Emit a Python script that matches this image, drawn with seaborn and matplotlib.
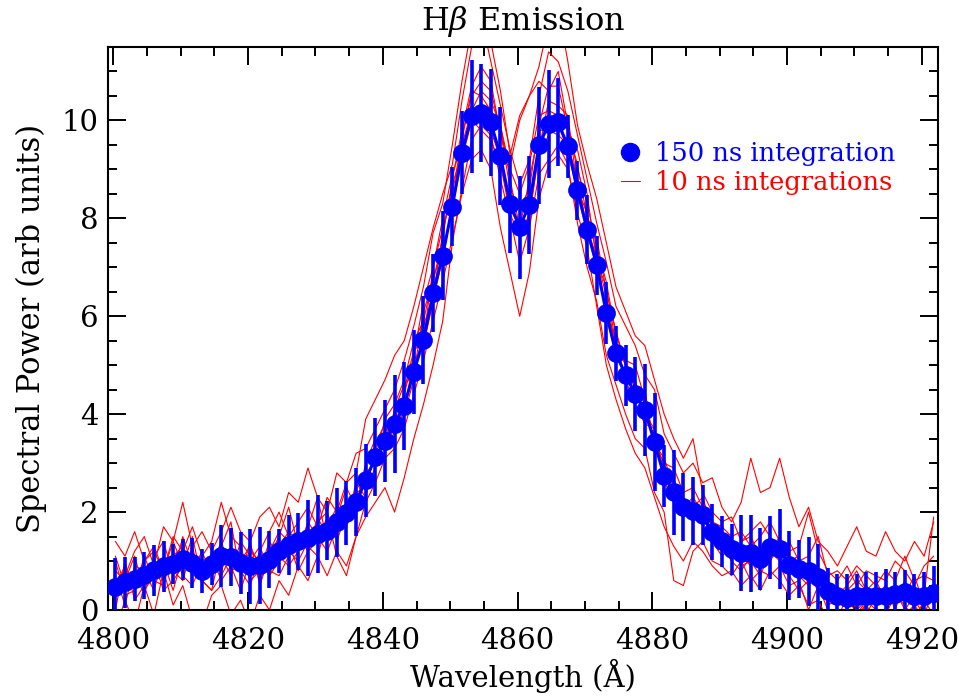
import numpy as np
import pandas as pd
import matplotlib
matplotlib.use("Agg")
import matplotlib.pyplot as plt
from matplotlib.lines import Line2D
import seaborn as sns

# ---------------- data ----------------
wl_start = 4800.3
wl_step = 1.429
n_pts = 86
wavelength = wl_start + wl_step * np.arange(n_pts)

blue_150ns = [
    0.47, 0.57, 0.64, 0.71, 0.81, 0.89, 0.94, 1.04, 0.96, 0.79,
    0.94, 1.10, 1.08, 0.96, 0.89, 0.91, 1.03, 1.20, 1.33, 1.40,
    1.47, 1.55, 1.62, 1.79, 1.98, 2.21, 2.65, 3.12, 3.45, 3.79,
    4.17, 4.86, 5.51, 6.47, 7.24, 8.24, 9.34, 10.08, 10.16, 9.96,
    9.27, 8.30, 7.82, 8.28, 9.49, 9.92, 9.96, 9.47, 8.57, 7.77,
    7.04, 6.06, 5.24, 4.79, 4.41, 4.08, 3.43, 2.73, 2.40, 2.10,
    2.02, 1.94, 1.59, 1.40, 1.24, 1.16, 1.16, 1.04, 1.28, 1.24,
    0.91, 0.83, 0.79, 0.67, 0.38, 0.28, 0.24, 0.28, 0.28, 0.28,
    0.28, 0.32, 0.36, 0.28, 0.28, 0.35,
]

blue_err = [
    0.60, 0.52, 0.45, 0.48, 0.52, 0.52, 0.40, 0.42, 0.51, 0.45,
    0.43, 0.63, 0.59, 0.63, 0.77, 0.78, 0.59, 0.45, 0.61, 0.59,
    0.78, 0.80, 0.60, 0.70, 0.65, 0.70, 0.75, 0.80, 0.83, 1.00,
    0.90, 0.85, 0.90, 0.80, 0.90, 0.80, 0.85, 1.15, 1.00, 1.10,
    1.00, 1.00, 1.05, 1.00, 1.20, 1.10, 0.90, 0.65, 0.60, 0.70,
    0.60, 0.63, 0.57, 0.63, 0.75, 0.94, 1.00, 0.63, 0.87, 0.70,
    0.70, 0.61, 0.57, 0.52, 0.52, 0.77, 0.79, 0.63, 0.64, 0.82,
    0.71, 0.59, 0.71, 0.67, 0.47, 0.45, 0.50, 0.45, 0.50, 0.50,
    0.55, 0.45, 0.45, 0.45, 0.50, 0.55,
]

red_run1 = [
    1.4, 1.1, 1.6, 1.0, 1.3, 0.8, 1.5, 1.2, 1.7, 1.1,
    1.4, 2.2, 1.5, 1.3, 0.7, 1.2, 1.6, 2.0, 1.5, 1.8,
    2.1, 1.7, 2.3, 2.0, 2.6, 2.8, 3.9, 4.3, 4.7, 5.2,
    5.5, 6.2, 7.0, 7.8, 8.5, 9.1, 10.4, 11.5, 12.1, 11.2,
    10.3, 9.4, 8.7, 9.2, 10.5, 11.4, 11.2, 10.6, 9.7, 8.8,
    7.9, 7.1, 6.2, 5.8, 5.4, 4.8, 4.5, 3.6, 3.2, 2.8,
    3.0, 2.6, 2.7, 2.1, 1.8, 2.2, 3.1, 2.4, 2.5, 3.1,
    2.3, 1.7, 2.1, 1.4, 1.2, 0.9, 1.3, 1.7, 1.2, 1.1,
    1.6, 1.2, 1.0, 1.4, 1.1, 1.8,
]
red_run2 = [
    -0.4, 0.2, -0.3, 0.5, -0.1, 0.8, 0.1, 0.5, -0.2, -0.3,
    0.3, 0.5, -0.1, 0.2, -0.3, 0.3, 0.0, 0.6, 0.3, 0.9,
    0.6, 1.1, 0.7, 1.2, 0.9, 1.5, 2.2, 2.6, 3.1, 3.3,
    3.7, 4.4, 5.1, 5.9, 6.7, 7.6, 8.5, 9.2, 9.4, 9.0,
    7.8, 6.9, 6.0, 6.9, 8.4, 9.1, 9.3, 9.0, 8.1, 7.4,
    6.2, 5.0, 4.3, 3.7, 3.2, 2.9, 2.3, 1.7, 1.3, 1.0,
    1.4, 1.2, 0.9, 0.7, 0.8, 0.5, 0.7, 0.4, 0.8, 0.6,
    0.3, 0.5, 0.1, 0.2, -0.2, 0.0, -0.3, -0.1, 0.1, -0.2,
    0.0, -0.3, -0.1, 0.1, -0.2, 0.0,
]
red_run3 = [
    1.1, 0.5, 0.8, 0.3, 1.1, 1.4, 0.7, 1.5, 0.9, 0.6,
    0.4, 1.3, 1.8, 0.7, 1.4, 0.5, 1.1, 1.5, 2.1, 1.3,
    1.7, 2.3, 1.4, 1.9, 2.5, 2.1, 3.0, 3.5, 3.3, 4.1,
    4.6, 4.8, 6.1, 6.7, 7.6, 8.8, 9.8, 10.7, 11.1, 10.8,
    9.7, 9.1, 10.0, 10.5, 10.8, 10.6, 11.0, 9.9, 9.0, 8.3,
    7.4, 6.7, 5.6, 5.1, 5.0, 4.3, 3.4, 3.0, 2.9, 2.4,
    2.5, 2.1, 1.8, 1.7, 1.5, 1.6, 1.3, 1.5, 1.8, 1.4,
    1.2, 1.3, 2.0, 1.2, 0.8, 0.6, 0.9, 0.5, 0.8, 0.7,
    0.6, 1.0, 0.8, 0.5, 0.9, 1.1,
]
red_run4 = [
    0.3, 0.8, 0.4, 1.1, 0.6, 0.5, 1.2, 0.7, 0.5, 1.0,
    1.1, 0.6, 0.9, 0.4, 1.0, 1.3, 0.8, 0.7, 1.1, 1.6,
    1.3, 1.1, 1.8, 1.6, 2.1, 2.4, 2.5, 2.9, 3.7, 3.6,
    4.1, 5.1, 5.4, 6.3, 7.2, 8.2, 9.2, 10.0, 9.8, 9.6,
    9.1, 8.1, 7.6, 8.1, 9.3, 9.7, 9.9, 9.4, 8.5, 7.7,
    7.0, 6.1, 5.5, 4.7, 4.2, 3.8, 3.7, 2.6, 2.3, 2.0,
    1.8, 2.1, 1.4, 1.1, 1.3, 0.9, 1.0, 0.7, 1.2, 1.0,
    0.7, 0.4, 0.6, 0.8, 0.2, 0.5, 0.0, 0.3, 0.5, 0.1,
    0.4, 0.2, 0.6, 0.0, 0.5, 0.3,
]
red_run5 = [
    0.0, 1.0, 0.2, 0.5, 0.9, 0.6, 1.1, 1.3, 0.8, 1.2,
    0.7, 0.9, 1.2, 1.1, 0.6, 0.8, 1.4, 1.1, 0.9, 1.2,
    1.8, 1.5, 1.2, 1.7, 1.8, 2.6, 2.3, 3.4, 3.8, 3.5,
    4.5, 5.3, 5.5, 7.0, 7.8, 8.5, 9.6, 10.6, 10.5, 10.2,
    9.9, 8.8, 7.8, 8.0, 9.4, 10.4, 10.3, 10.1, 8.6, 8.1,
    7.3, 6.0, 5.2, 5.1, 4.3, 4.5, 3.3, 2.9, 2.7, 1.9,
    2.2, 1.8, 1.7, 1.4, 1.0, 1.4, 1.5, 1.1, 1.2, 1.5,
    1.0, 1.1, 0.5, 0.7, 0.6, 0.3, 0.5, 0.8, 0.4, 0.6,
    0.2, 0.5, 0.3, 0.7, 0.1, 0.5,
]
red_run6 = [
    0.7, 0.1, 0.9, 0.8, 0.4, 1.1, 0.8, 0.6, 1.3, 0.5,
    1.2, 1.1, 0.7, 1.4, 1.1, 0.6, 1.0, 1.4, 1.2, 1.0,
    1.4, 1.8, 2.0, 1.4, 2.0, 1.9, 2.8, 3.0, 3.4, 4.0,
    4.0, 4.7, 5.8, 6.4, 7.7, 8.7, 9.3, 10.1, 10.1, 9.8,
    9.2, 8.2, 7.8, 8.8, 9.8, 9.8, 9.7, 9.5, 8.8, 7.8,
    7.2, 6.4, 5.3, 4.8, 4.7, 3.9, 3.6, 2.7, 2.4, 2.3,
    2.0, 1.9, 1.5, 1.6, 1.2, 1.1, 0.9, 1.2, 1.4, 1.1,
    0.8, 0.9, 0.7, 0.4, 0.5, 0.1, 0.4, 0.0, 0.2, 0.4,
    0.1, 0.4, 0.0, 0.3, 0.4, 0.1,
]
red_run7 = [
    0.8, 0.6, 1.1, 0.4, 0.7, 1.0, 0.4, 1.1, 0.7, 0.8,
    0.9, 1.4, 0.8, 0.9, 1.2, 1.0, 0.7, 1.3, 1.6, 1.4,
    1.5, 1.6, 1.7, 2.1, 1.7, 2.2, 2.6, 3.1, 3.9, 4.2,
    4.7, 5.5, 5.9, 6.8, 7.3, 8.2, 9.7, 10.5, 10.8, 10.6,
    9.8, 8.6, 8.2, 8.6, 9.9, 10.7, 10.7, 9.8, 9.1, 8.0,
    7.6, 6.5, 5.7, 5.0, 4.6, 4.2, 3.4, 3.1, 2.5, 2.2,
    2.1, 2.3, 1.7, 1.3, 1.4, 1.3, 1.1, 0.9, 1.0, 1.3,
    1.1, 0.8, 0.8, 0.6, 0.3, 0.4, 0.2, 0.4, -0.1, 0.3,
    0.5, 0.0, 0.6, 0.2, -0.1, 0.4,
]
red_run8 = [
    0.5, 0.9, 0.5, 1.0, 1.2, 0.8, 1.4, 0.9, 1.2, 0.7,
    1.0, 0.8, 1.3, 0.8, 0.5, 1.1, 0.7, 1.0, 1.2, 1.5,
    1.2, 1.4, 1.9, 1.1, 0.7, 1.5, 1.9, 2.2, 2.5, 2.0,
    2.7, 3.5, 4.2, 5.0, 5.9, 7.5, 8.6, 9.6, 9.9, 9.7,
    8.8, 8.0, 7.1, 7.8, 8.9, 9.2, 9.5, 9.1, 7.9, 7.0,
    6.3, 5.2, 4.6, 4.0, 3.5, 3.3, 2.4, 2.0, 0.6, 0.5,
    1.2, 1.4, 1.0, 0.9, 0.7, 1.0, 0.6, 0.8, 0.7, 0.9,
    0.5, 0.6, 0.0, 0.5, 0.0, -0.2, 0.3, -0.1, 0.2, 0.0,
    -0.1, 0.3, 0.1, -0.2, 0.2, -0.1,
]
red_run9 = [
    0.4, 0.7, 1.2, 1.5, 0.9, 1.7, 1.4, 2.2, 1.3, 1.6,
    1.2, 1.6, 2.1, 1.6, 1.4, 1.9, 2.1, 1.7, 2.4, 2.2,
    2.9, 2.3, 2.0, 2.8, 2.6, 3.2, 3.3, 3.7, 4.1, 4.5,
    5.1, 5.8, 6.6, 7.7, 8.3, 9.5, 10.8, 11.9, 12.2, 11.6,
    10.6, 9.3, 10.1, 10.5, 11.1, 12.0, 12.3, 11.2, 9.9, 9.1,
    8.4, 7.5, 6.6, 6.1, 5.6, 5.4, 4.7, 4.0, 3.5, 3.1,
    3.5, 2.4, 2.0, 1.8, 1.9, 1.4, 1.6, 1.8, 1.5, 1.2,
    1.4, 1.0, 1.1, 1.5, 0.7, 0.8, 0.6, 0.9, 0.7, 0.5,
    0.8, 0.6, 1.1, 0.6, 0.7, 0.6,
]
red_run10 = [
    1.0, 0.3, 0.4, 0.8, 1.0, 0.4, 0.6, 0.9, 1.5, 0.6,
    0.4, 0.7, 1.1, 1.0, 1.3, 0.9, 1.2, 1.6, 1.4, 0.8,
    1.2, 1.9, 1.5, 1.8, 2.2, 2.3, 2.3, 3.4, 3.5, 4.0,
    4.4, 5.2, 6.3, 7.0, 8.0, 8.9, 9.5, 10.2, 10.6, 10.4,
    9.9, 9.0, 8.5, 9.1, 10.1, 10.2, 10.1, 9.8, 9.4, 8.5,
    7.1, 6.6, 5.4, 5.0, 4.5, 4.0, 3.7, 2.8, 2.5, 2.1,
    2.3, 2.0, 1.4, 1.3, 1.0, 0.8, 1.1, 0.9, 1.2, 1.3,
    0.9, 0.7, 0.5, 0.8, 0.1, 0.2, 0.4, 0.6, 0.4, 0.3,
    0.3, 0.1, 0.5, 0.4, 0.3, 1.9,
]
red_runs = [red_run1, red_run2, red_run3, red_run4, red_run5,
            red_run6, red_run7, red_run8, red_run9, red_run10]

title_text = "H$\\beta$ Emission"
xlabel_text = "Wavelength (Å)"
ylabel_text = "Spectral Power (arb units)"
legend_labels = ["150 ns integration", "10 ns integrations"]
x_ticks = [4800, 4820, 4840, 4860, 4880, 4900, 4920]
y_ticks = [0, 2, 4, 6, 8, 10]

# ---------------- frames ----------------
red_df = pd.concat(
    [pd.DataFrame({"wavelength": wavelength, "power": run, "run": i})
     for i, run in enumerate(red_runs)],
    ignore_index=True,
)
blue_df = pd.DataFrame({"wavelength": wavelength, "power": blue_150ns, "err": blue_err})

# ---------------- style ----------------
sns.set_style("ticks")
plt.rcParams["font.family"] = ["DejaVu Serif"]
plt.rcParams["mathtext.fontset"] = "dejavuserif"
for key in ["text.color", "axes.labelcolor", "xtick.color", "ytick.color",
            "xtick.labelcolor", "ytick.labelcolor", "axes.edgecolor"]:
    plt.rcParams[key] = "black"

fig = plt.figure(figsize=(9.58, 6.98), dpi=100)
ax = fig.add_axes([0.1127, 0.1261, 0.8664, 0.8066])

sns.lineplot(data=red_df, x="wavelength", y="power", units="run", estimator=None,
             color="#ff0000", linewidth=0.8, ax=ax, legend=False, zorder=2)

ax.errorbar(blue_df["wavelength"], blue_df["power"], yerr=blue_df["err"], fmt="none",
            ecolor="#0000ff", elinewidth=2.6, capsize=0, zorder=3)
sns.lineplot(data=blue_df, x="wavelength", y="power", color="#0000ff", linewidth=2.2,
             marker="o", markersize=13.5, markeredgewidth=0, ax=ax, legend=False, zorder=4)

ax.set_xlim(4799.2, 4922.4)
ax.set_ylim(0, 11.5)
ax.set_xticks(x_ticks)
ax.set_yticks(y_ticks)
ax.xaxis.set_minor_locator(matplotlib.ticker.MultipleLocator(5))
ax.yaxis.set_minor_locator(matplotlib.ticker.MultipleLocator(0.5))
ax.tick_params(which="both", direction="in", top=True, right=True, width=1.4, color="black")
ax.tick_params(which="major", length=13)
ax.tick_params(which="minor", length=6.5)
ax.tick_params(axis="x", which="major", labelsize=21, pad=12, labelcolor="black")
ax.tick_params(axis="y", which="major", labelsize=21, pad=7, labelcolor="black")
for sp in ax.spines.values():
    sp.set_visible(True)
    sp.set_linewidth(1.5)
    sp.set_color("black")

ax.set_title(title_text, fontsize=23, pad=12, color="black")
ax.set_xlabel(xlabel_text, fontsize=21, labelpad=3, color="black")
ax.set_ylabel(ylabel_text, fontsize=22, labelpad=10, color="black")

handles = [
    Line2D([], [], color="#0000ff", marker="o", linestyle="none", markersize=13),
    Line2D([], [], color="#ff0000", linewidth=0.8),
]
leg = ax.legend(handles, legend_labels, loc="upper left", bbox_to_anchor=(0.6176, 0.833),
                frameon=False, fontsize=18.5, handlelength=0.75, handletextpad=0.6,
                labelspacing=0.15, borderpad=0, borderaxespad=0,
                labelcolor=["#0000ff", "#ff0000"])

fig.savefig("out.png", dpi=100)
